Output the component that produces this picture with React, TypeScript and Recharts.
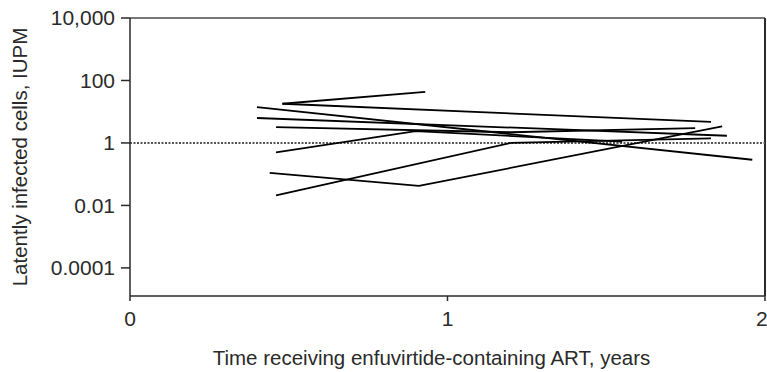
import React from 'react';
import { LineChart, Line, XAxis, YAxis, ReferenceLine } from 'recharts';

// one array per patient: [years, IUPM]
const patientA = [[0.48, 18], [0.93, 43]];
const patientB = [[0.48, 18], [1.83, 4.7]];
const patientC = [[0.4, 14], [1.96, 0.29]];
const patientD = [[0.4, 6.3], [1.88, 1.7]];
const patientE = [[0.46, 3.2], [1.2, 2.2], [1.78, 3.0]];
const patientF = [[0.46, 0.5], [0.9, 2.4], [1.55, 1.1]];
const patientG = [[0.44, 0.11], [0.91, 0.042], [1.865, 3.4]];
const patientH = [[0.46, 0.021], [1.2, 1.0], [1.83, 1.4]];

const patients = [patientA, patientB, patientC, patientD, patientE, patientF, patientG, patientH];

const xTicks = [0, 1, 2];
const yTicks = [0.0001, 0.01, 1, 100, 10000];
const yLabels: Record<number, string> = {
  0.0001: '0.0001',
  0.01: '0.01',
  1: '1',
  100: '100',
  10000: '10,000',
};

const font = '"Liberation Sans", Arial, sans-serif';
const ink = '#2a2a2a';

export default function App() {
  return (
    <div style={{ width: 767, height: 372 }}>
      <style>{'body{margin:0}'}</style>
      <LineChart width={767} height={372} margin={{ top: 18, right: 2, bottom: 0, left: 0 }}>
        <XAxis
          type="number"
          dataKey="t"
          domain={[0, 2]}
          ticks={xTicks}
          stroke={ink}
          strokeWidth={1.5}
          tickSize={5}
          tick={{ fill: ink, fontSize: 21, fontFamily: font, dy: 8 }}
          height={76}
          label={{
            value: 'Time receiving enfuvirtide-containing ART, years',
            position: 'insideBottom',
            offset: 7,
            dx: -16,
            fill: ink,
            fontSize: 20.5,
            fontFamily: font,
          }}
        />
        <YAxis
          type="number"
          scale="log"
          domain={[1.26e-5, 10000]}
          allowDataOverflow
          ticks={yTicks}
          tickFormatter={(v: number) => yLabels[v] ?? String(v)}
          stroke={ink}
          strokeWidth={1.5}
          tickSize={9}
          width={130}
          tick={{ fill: ink, fontSize: 21, fontFamily: font, dx: -4 }}
          label={{
            value: 'Latently infected cells, IUPM',
            angle: -90,
            position: 'insideLeft',
            offset: 20,
            fill: ink,
            fontSize: 20.5,
            fontFamily: font,
            style: { textAnchor: 'middle' },
          }}
        />
        <ReferenceLine y={10000} stroke="#777" strokeWidth={2} />
        <ReferenceLine x={2} stroke={ink} strokeWidth={2} />
        <ReferenceLine y={1} stroke="#555" strokeWidth={2} strokeDasharray="2 1.5" />
        {patients.map((p, i) => (
          <Line
            key={i}
            data={p.map(([t, v]) => ({ t, v }))}
            dataKey="v"
            stroke="#000"
            strokeWidth={1.8}
            dot={false}
            isAnimationActive={false}
          />
        ))}
      </LineChart>
    </div>
  );
}
